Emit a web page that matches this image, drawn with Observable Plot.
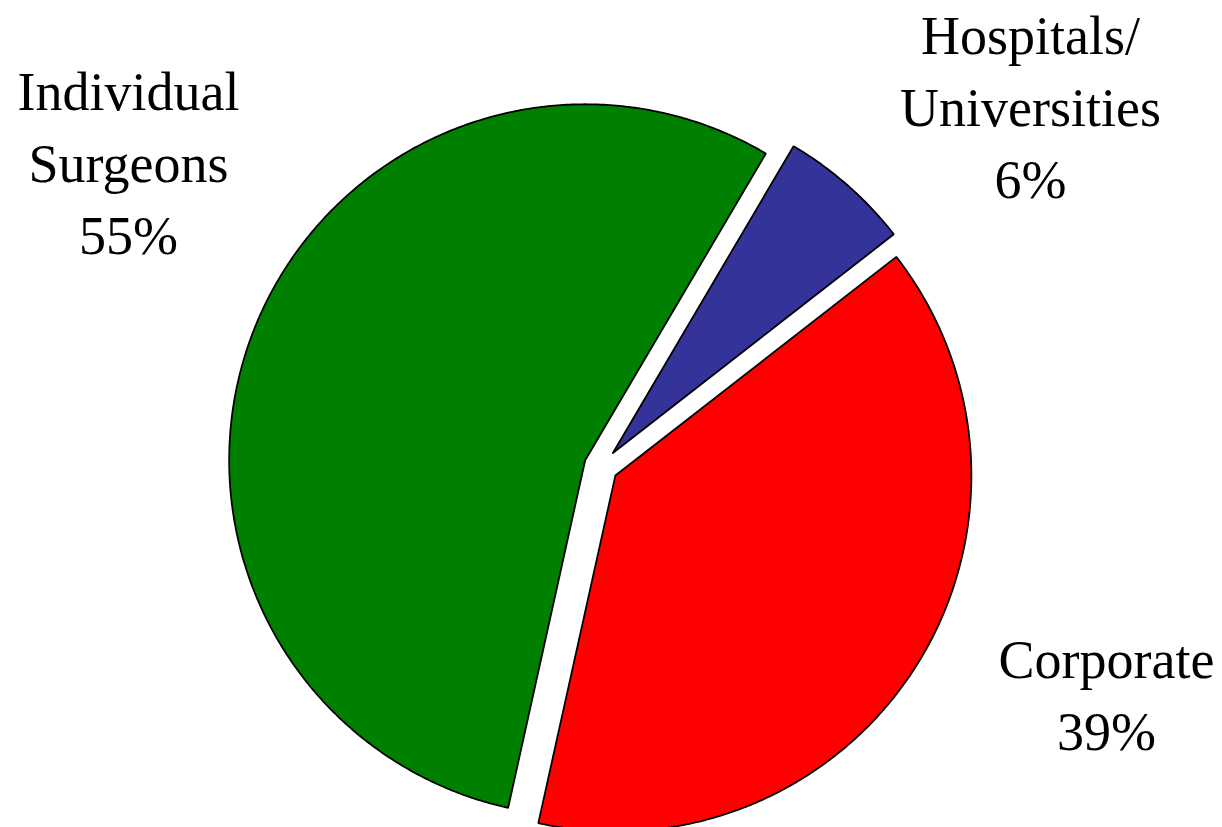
<!DOCTYPE html>
<html>
<head>
<meta charset="utf-8">
<script src="https://cdn.jsdelivr.net/npm/d3@7"></script>
<script src="https://cdn.jsdelivr.net/npm/@observablehq/plot@0.6"></script>
<style>
  html, body { margin: 0; padding: 0; background: #fff; }
  #chart svg { display: block; }
</style>
</head>
<body>
<div id="chart"></div>
<script>
// ---- data ----
const categories = ["Hospitals/\nUniversities", "Corporate", "Individual\nSurgeons"];
const keys = ["Hospitals", "Corporate", "Individual"];
const values = [6, 39, 55];
const colors = ["#333399", "#FF0000", "#008000"];

// ---- layout ----
const W = 1222, H = 827;
const cx = 600.5, cy = 466, R = 356;        // pie centre & radius (px)
const startAngle = 30.5 * Math.PI / 180;    // clockwise from 12 o'clock
const explode = [18, 17, 17];               // px offset per slice
const labelPos = [[1030, 53], [1106, 677], [128, 109]]; // first-line baseline (px)
const lineStep = 72;

const toX = px => (px - cx) / R;
const toY = py => (cy - py) / R;

const pie = d3.pie().sort(null).value(d => d).startAngle(startAngle).endAngle(startAngle + 2 * Math.PI)(values);

const poly = [];
pie.forEach((p, i) => {
  const mid = (p.startAngle + p.endAngle) / 2;
  const ox = explode[i] / R * Math.sin(mid), oy = explode[i] / R * Math.cos(mid);
  const n = Math.max(8, Math.ceil((p.endAngle - p.startAngle) / (Math.PI / 360)));
  poly.push({key: keys[i], x: ox, y: oy});
  for (let k = 0; k <= n; k++) {
    const a = p.startAngle + (p.endAngle - p.startAngle) * k / n;
    poly.push({key: keys[i], x: ox + Math.sin(a), y: oy + Math.cos(a)});
  }
  poly.push({key: keys[i], x: ox, y: oy});
});

const labels = [];
categories.forEach((c, i) => {
  const lines = c.split("\n").concat([values[i] + "%"]);
  lines.forEach((t, j) => labels.push({t, x: toX(labelPos[i][0]), y: toY(labelPos[i][1] + j * lineStep)}));
});

const chart = Plot.plot({
  width: W, height: H,
  margin: 0,
  x: {domain: [toX(0), toX(W)], range: [0, W], axis: null},
  y: {domain: [toY(H), toY(0)], range: [H, 0], axis: null},
  color: {domain: keys, range: colors},
  style: {background: "#fff"},
  marks: [
    Plot.line(poly, {x: "x", y: "y", z: "key", fill: "key", stroke: "#000", strokeWidth: 1.8, strokeLinejoin: "miter", curve: "linear"}),
    Plot.text(labels, {x: "x", y: "y", text: "t", textAnchor: "middle", lineAnchor: "bottom",
      fontFamily: "Liberation Serif", fontSize: 54, fill: "#000"})
  ]
});
document.getElementById("chart").appendChild(chart);
</script>
</body>
</html>
